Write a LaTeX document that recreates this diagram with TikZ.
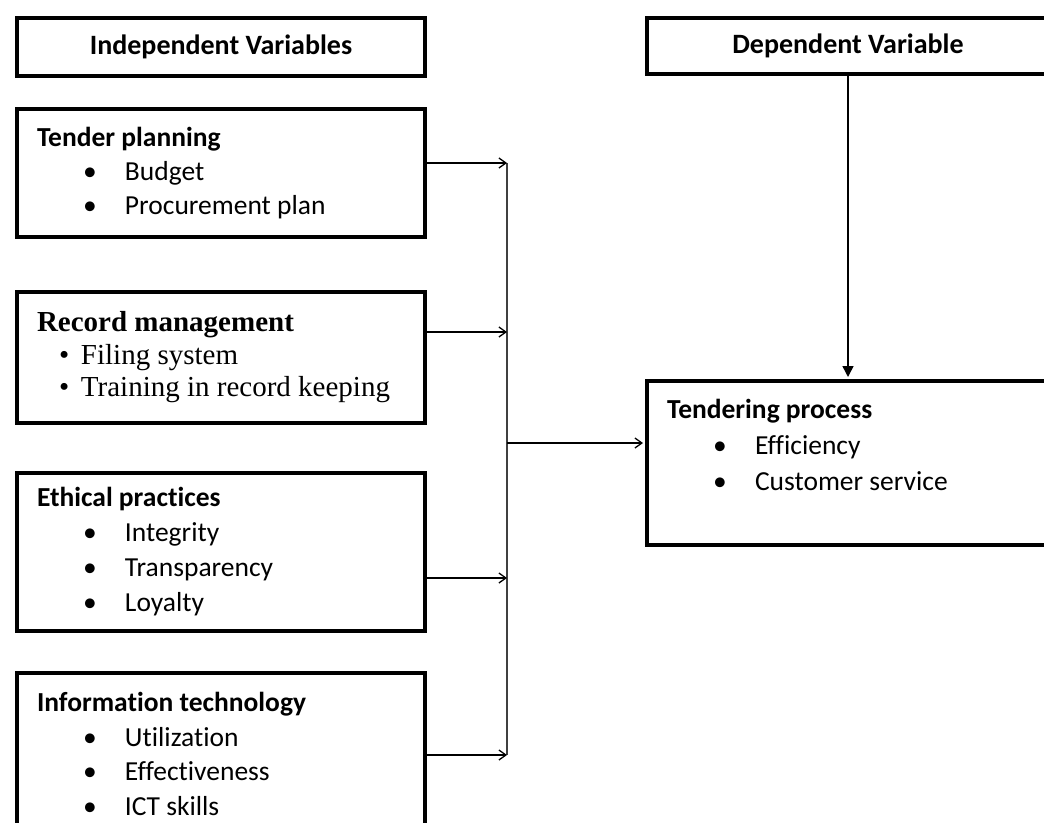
\documentclass[tikz,border=0pt]{standalone}
\usepackage{fontspec}
\setmainfont{Carlito}[Ligatures=NoCommon]
\newfontfamily\timesfont{Liberation Serif}
\usetikzlibrary{arrows.meta}

% bullet lines inside the boxes
\newcommand{\bul}{\hspace*{46pt}\makebox[42pt][l]{\textbullet}}
\newcommand{\rbul}{\hspace*{22pt}\makebox[22pt][l]{\textbullet}}

\begin{document}
\begin{tikzpicture}[x=1pt, y=-1pt,
    headbox/.style={draw, line width=4pt, anchor=north west, minimum height=58pt,
      font=\bfseries\fontsize{28}{33}\selectfont},
    varbox/.style={draw, line width=4pt, anchor=north west, inner xsep=20pt, inner ysep=4pt,
      align=flush left, text width=#1, font=\fontsize{27.5}{34}\selectfont},
    varbox/.default=368pt,
    bus/.style={draw=black!75, line width=1.2pt},
    feed/.style={draw, line width=1.3pt, -{Straight Barb[length=7pt, width=10pt]}},
    main/.style={draw, line width=1.5pt, -{Triangle[length=11pt, width=11pt]}}]
    \useasboundingbox (0,0) rectangle (1044,822);
    \fill[white] (0,0) rectangle (1044,822);
    \clip (0,0) rectangle (1044,822);

    % headings
    \node[headbox, minimum width=408pt] (indep) at (15,16) {Independent Variables};
    \node[headbox, minimum width=402pt, minimum height=56pt] (dep) at (645,16) {Dependent Variable};

    % independent variables
    \node[varbox, minimum height=128pt] (tender) at (15,107) {%
      \textbf{Tender planning}\\
      \bul Budget\\
      \bul Procurement plan};
    \node[varbox, minimum height=131pt, font=\timesfont\fontsize{29}{32.5}\selectfont] (record) at (15,290) {%
      \textbf{Record management}\\
      \rbul Filing system\\
      \rbul Training in record keeping};
    \node[varbox, minimum height=158pt, font=\fontsize{27.5}{35}\selectfont] (ethics) at (15,471) {%
      \textbf{Ethical practices}\\
      \bul Integrity\\
      \bul Transparency\\
      \bul Loyalty};
    \node[varbox, minimum height=162pt, font=\fontsize{27.5}{34.5}\selectfont] (infotech) at (15,671) {%
      \textbf{Information technology}\\
      \bul Utilization\\
      \bul Effectiveness\\
      \bul ICT skills};

    % dependent variable
    \node[varbox=362pt, minimum height=164pt, font=\fontsize{27.5}{36}\selectfont] (tproc) at (645,379) {%
      \textbf{Tendering process}\\
      \bul Efficiency\\
      \bul Customer service\\
      \mbox{}};

    % joints on the collecting line
    \coordinate (j1) at (507,163);
    \coordinate (j2) at (507,332);
    \coordinate (jm) at (507,443);
    \coordinate (j3) at (507,578);
    \coordinate (j4) at (507,755);

    \draw[bus] (j1) -- (j4);
    \draw[feed] (tender.east |- j1) -- (j1);
    \draw[feed] (record.east |- j2) -- (j2);
    \draw[feed] (ethics.east |- j3) -- (j3);
    \draw[feed] (infotech.east |- j4) -- (j4);
    \draw[feed, shorten >=2pt] (jm) -- (tproc.west |- jm);
    \draw[main, shorten >=2pt] (dep.south) -- (tproc.north);
\end{tikzpicture}
\end{document}
